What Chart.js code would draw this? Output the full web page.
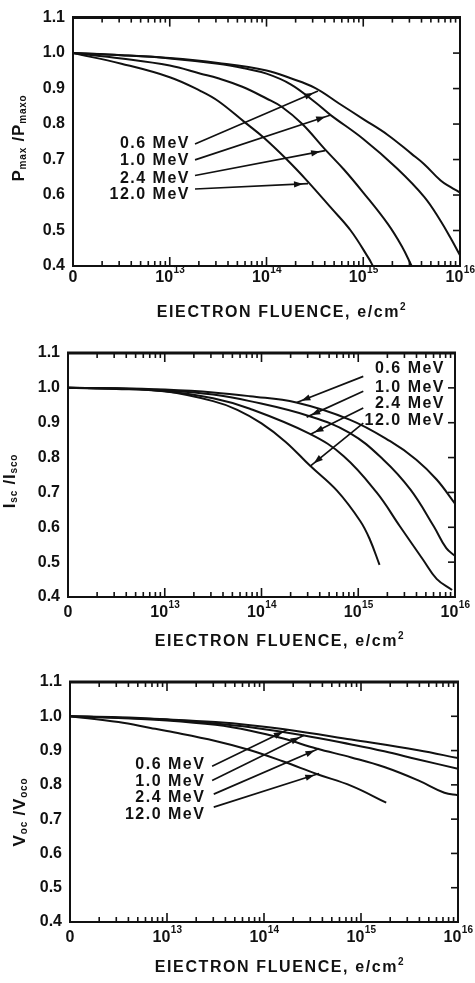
<!DOCTYPE html>
<html>
<head>
<meta charset="utf-8">
<script src="https://cdn.jsdelivr.net/npm/chart.js@4.4.1/dist/chart.umd.min.js"></script>
<style>
  html, body { margin: 0; padding: 0; background: #fff; }
  body { width: 475px; height: 983px; position: relative; overflow: hidden; }
  .panel { position: absolute; left: 0; width: 475px; }
  canvas { display: block; }
</style>
</head>
<body>
<div class="panel" style="top:0;height:322px"><canvas id="c1"></canvas></div>
<div class="panel" style="top:322px;height:333px"><canvas id="c2"></canvas></div>
<div class="panel" style="top:655px;height:328px"><canvas id="c3"></canvas></div>
<script>
// Electron energies of the four degradation curves (same order in every panel)
const energies = ['0.6 MeV', '1.0 MeV', '2.4 MeV', '12.0 MeV'];

// Decades labelled on the fluence axis; the left end (10^12) is labelled "0"
const fluenceDecades = ['13', '14', '15', '16'];
const ratioTicks = [0.4, 0.5, 0.6, 0.7, 0.8, 0.9, 1.0, 1.1];

// Each point: [log10 fluence (e/cm²), normalized ratio]
// Maximum power, Pmax / Pmaxo
const pmax06  = [[12,1.0],[12.5,0.994],[13,0.986],[13.5,0.972],[14,0.951],[14.25,0.929],[14.5,0.902],[14.75,0.858],[15,0.814],[15.25,0.77],[15.5,0.716],[15.63,0.687],[15.8,0.641],[15.9,0.623],[16,0.607]];
const pmax10  = [[12,1.0],[12.5,0.994],[13,0.985],[13.5,0.97],[13.77,0.957],[14,0.942],[14.25,0.912],[14.5,0.862],[14.66,0.826],[15,0.758],[15.35,0.675],[15.63,0.595],[15.8,0.527],[15.9,0.48],[16,0.43]];
const pmax24  = [[12,1.0],[12.5,0.985],[13,0.965],[13.32,0.942],[13.5,0.929],[13.75,0.905],[14,0.872],[14.16,0.848],[14.37,0.8],[14.6,0.73],[14.8,0.672],[15,0.607],[15.25,0.52],[15.4,0.455],[15.5,0.4]];
const pmax120 = [[12,1.0],[12.5,0.97],[13,0.932],[13.32,0.893],[13.5,0.865],[13.78,0.804],[13.97,0.762],[14.21,0.7],[14.42,0.64],[14.67,0.563],[14.87,0.5],[15.06,0.42],[15.1,0.4]];

// Short-circuit current, Isc / Isco
const isc06  = [[12,1.0],[12.5,0.999],[13,0.995],[13.5,0.987],[13.88,0.976],[14.36,0.958],[14.91,0.909],[15.33,0.847],[15.6,0.794],[15.81,0.737],[16,0.668]];
const isc10  = [[12,1.0],[12.5,0.998],[13,0.993],[13.5,0.981],[13.88,0.962],[14.48,0.92],[14.91,0.871],[15.26,0.794],[15.54,0.708],[15.78,0.603],[15.91,0.54],[16,0.518]];
const isc24  = [[12,1.0],[12.5,0.997],[13,0.99],[13.5,0.97],[13.88,0.94],[14.5,0.868],[14.85,0.804],[15.19,0.7],[15.43,0.603],[15.67,0.507],[15.81,0.452],[15.97,0.42]];
const isc120 = [[12,1.0],[12.5,0.998],[13,0.99],[13.5,0.962],[13.75,0.937],[14,0.898],[14.25,0.845],[14.5,0.777],[14.78,0.705],[15.02,0.618],[15.12,0.565],[15.22,0.492]];

// Open-circuit voltage, Voc / Voco
const voc06  = [[12,1.0],[12.5,0.997],[13,0.991],[13.5,0.983],[13.86,0.974],[14.21,0.962],[14.9,0.932],[15.59,0.901],[16,0.878]];
const voc10  = [[12,1.0],[12.5,0.996],[13,0.99],[13.5,0.979],[13.86,0.968],[14.4,0.945],[14.9,0.918],[15.24,0.898],[15.59,0.874],[16,0.847]];
const voc24  = [[12,1.0],[12.5,0.995],[13,0.988],[13.5,0.975],[13.86,0.958],[14.2,0.935],[14.54,0.906],[14.9,0.88],[15.24,0.852],[15.59,0.813],[15.86,0.777],[16,0.77]];
const voc120 = [[12,1.0],[12.5,0.983],[12.83,0.966],[13,0.957],[13.5,0.928],[13.86,0.901],[14.2,0.868],[14.55,0.831],[14.9,0.797],[15.26,0.748]];

// Energy call-outs: label anchor, arrow start and arrow end, in [log10 fluence, ratio]
const pmaxCallouts = [
  { at: [13.209, 0.746], from: [13.261, 0.744], to: [14.532, 0.893] },
  { at: [13.209, 0.698], from: [13.261, 0.699], to: [14.656, 0.825] },
  { at: [13.209, 0.646], from: [13.261, 0.655], to: [14.605, 0.725] },
  { at: [13.209, 0.601], from: [13.261, 0.617], to: [14.429, 0.632] }
];
const iscCallouts = [
  { at: [15.897, 1.055], from: [15.052, 1.033], to: [14.364, 0.958] },
  { at: [15.897, 1.002], from: [15.052, 0.990], to: [14.467, 0.916] },
  { at: [15.897, 0.955], from: [15.052, 0.942], to: [14.501, 0.866] },
  { at: [15.897, 0.906], from: [15.052, 0.899], to: [14.501, 0.775] }
];
const vocCallouts = [
  { at: [13.396, 0.860], from: [13.465, 0.854], to: [14.241, 0.961] },
  { at: [13.396, 0.810], from: [13.465, 0.813], to: [14.413, 0.945] },
  { at: [13.396, 0.762], from: [13.482, 0.773], to: [14.568, 0.906] },
  { at: [13.396, 0.714], from: [13.482, 0.735], to: [14.568, 0.833] }
];

const FONT = '"Liberation Sans", Arial, Helvetica, sans-serif';
const INK = '#111';
const xTitleText = 'EIECTRON FLUENCE, e/cm';

// Per-panel layout: plot box (canvas pixels), title positions and text
const panels = {
  c1: {
    series: [pmax06, pmax10, pmax24, pmax120], callouts: pmaxCallouts, align: 'right',
    box: { left: 73, top: 16, right: 460, bottom: 266 }, height: 322,
    yTitle: [['P', 0], ['max', 1], [' /P', 0], ['maxo', 1]], yTitleAt: [24, 138],
    tickBaseline: 282, xTitleAt: [282, 317]
  },
  c2: {
    series: [isc06, isc10, isc24, isc120], callouts: iscCallouts, align: 'right',
    box: { left: 68, top: 31, right: 455, bottom: 275 }, height: 333,
    yTitle: [['I', 0], ['sc', 1], [' /I', 0], ['sco', 1]], yTitleAt: [15, 159],
    tickBaseline: 295, xTitleAt: [280, 324]
  },
  c3: {
    series: [voc06, voc10, voc24, voc120], callouts: vocCallouts, align: 'right',
    box: { left: 70, top: 27, right: 458, bottom: 267 }, height: 328,
    yTitle: [['V', 0], ['oc', 1], [' /V', 0], ['oco', 1]], yTitleAt: [25, 157],
    tickBaseline: 287, xTitleAt: [280, 317]
  }
};

function seg(ctx, x0, y0, x1, y1) {
  ctx.beginPath(); ctx.moveTo(x0, y0); ctx.lineTo(x1, y1); ctx.stroke();
}

function arrow(ctx, x0, y0, x1, y1) {
  ctx.lineWidth = 1.7;
  seg(ctx, x0, y0, x1, y1);
  const ang = Math.atan2(y1 - y0, x1 - x0);
  const c = Math.cos(ang), s = Math.sin(ang);
  const hx = x1 - 5 * c, hy = y1 - 5 * s;   // head sits just short of the line end
  const L = 9, W = 3.2;
  ctx.beginPath();
  ctx.moveTo(hx, hy);
  ctx.lineTo(hx - L * c + W * s, hy - L * s - W * c);
  ctx.lineTo(hx - L * c - W * s, hy - L * s + W * c);
  ctx.closePath();
  ctx.fill();
}

const figurePlugin = {
  id: 'figure',
  afterDraw(chart) {
    const p = panels[chart.canvas.id];
    const ctx = chart.ctx;
    const a = chart.chartArea;
    const xs = chart.scales.x, ys = chart.scales.y;
    const px = lf => xs.getPixelForValue(Math.pow(10, lf));
    const py = v => ys.getPixelForValue(v);

    ctx.save();
    ctx.strokeStyle = INK;
    ctx.fillStyle = INK;
    ctx.lineCap = 'butt';

    // plot frame
    ctx.lineWidth = 2;
    ctx.strokeRect(a.left, a.top, a.right - a.left, a.bottom - a.top);
    ctx.lineWidth = 3;
    seg(ctx, a.left - 1, a.top, a.right + 1, a.top);

    // inward log ticks on the bottom and top edges
    ctx.lineWidth = 1.6;
    for (let e = 12; e < 16; e++) {
      for (let k = 1; k <= 9; k++) {
        if (e === 12 && k === 1) continue;
        const x = xs.getPixelForValue(k * Math.pow(10, e));
        const len = k === 1 ? 9 : 5;
        seg(ctx, x, a.bottom, x, a.bottom - len);
        seg(ctx, x, a.top, x, a.top + len);
      }
    }
    // inward ticks on the right edge
    ratioTicks.forEach(v => {
      if (v > 0.4 && v < 1.1) seg(ctx, a.right, py(v), a.right - 7, py(v));
    });

    // fluence tick labels: "0" then 10^n
    ctx.textBaseline = 'alphabetic';
    ctx.textAlign = 'left';
    const bigFont = 'bold 16px ' + FONT;
    const supFont = 'bold 10px ' + FONT;
    ctx.font = bigFont;
    const zw = ctx.measureText('0').width;
    ctx.fillText('0', px(12) - zw / 2, p.tickBaseline);
    fluenceDecades.forEach(d => {
      const x = xs.getPixelForValue(Math.pow(10, Number(d)));
      ctx.font = bigFont;
      const w1 = ctx.measureText('10').width;
      ctx.font = supFont;
      const w2 = ctx.measureText(d).width;
      const left = x - (w1 + w2) / 2;
      ctx.font = bigFont;
      ctx.fillText('10', left, p.tickBaseline);
      ctx.font = supFont;
      ctx.fillText(d, left + w1 + 0.5, p.tickBaseline - 9);
    });

    // fluence axis title with superscript
    ctx.font = bigFont;
    ctx.letterSpacing = '1.6px';
    const tw = ctx.measureText(xTitleText).width;
    ctx.font = supFont;
    const sw = ctx.measureText('2').width;
    const tx = p.xTitleAt[0] - (tw + sw) / 2;
    ctx.font = bigFont;
    ctx.fillText(xTitleText, tx, p.xTitleAt[1]);
    ctx.font = supFont;
    ctx.fillText('2', tx + tw, p.xTitleAt[1] - 7);

    // rotated ratio title with subscripts
    ctx.save();
    ctx.translate(p.yTitleAt[0], p.yTitleAt[1]);
    ctx.rotate(-Math.PI / 2);
    ctx.letterSpacing = '0.8px';
    const yFontBig = 'bold 17px ' + FONT;
    const yFontSub = 'bold 10px ' + FONT;
    let total = 0;
    p.yTitle.forEach(([t, sub]) => { ctx.font = sub ? yFontSub : yFontBig; total += ctx.measureText(t).width; });
    let cx = -total / 2;
    p.yTitle.forEach(([t, sub]) => {
      ctx.font = sub ? yFontSub : yFontBig;
      ctx.fillText(t, cx, sub ? 2 : 0);
      cx += ctx.measureText(t).width;
    });
    ctx.restore();

    // energy call-outs
    ctx.font = bigFont;
    ctx.letterSpacing = '1.5px';
    ctx.textBaseline = 'middle';
    ctx.textAlign = p.align;
    p.callouts.forEach((c, i) => {
      ctx.fillText(energies[i], px(c.at[0]), py(c.at[1]));
      arrow(ctx, px(c.from[0]), py(c.from[1]), px(c.to[0]), py(c.to[1]));
    });

    ctx.restore();
  }
};

function buildPanel(id) {
  const p = panels[id];
  return new Chart(document.getElementById(id), {
    type: 'line',
    data: {
      datasets: p.series.map((s, i) => ({
        label: energies[i],
        data: s.map(([lf, r]) => ({ x: Math.pow(10, lf), y: r })),
        borderColor: INK,
        borderWidth: 2,
        pointRadius: 0,
        fill: false,
        tension: 0.4
      }))
    },
    options: {
      responsive: true,
      maintainAspectRatio: false,
      animation: false,
      events: [],
      layout: { padding: { left: 0, top: p.box.top, right: 475 - p.box.right, bottom: p.height - p.box.bottom } },
      plugins: { legend: { display: false }, tooltip: { enabled: false } },
      scales: {
        x: { type: 'logarithmic', min: 1e12, max: 1e16, display: false },
        y: {
          min: 0.4, max: 1.1,
          afterBuildTicks: s => { s.ticks = ratioTicks.map(v => ({ value: v })); },
          afterFit: s => { s.width = p.box.left; },
          grid: { display: false, drawTicks: false },
          border: { display: false },
          ticks: {
            padding: 8,
            color: INK,
            font: { family: FONT, size: 16, weight: 'bold' },
            callback: v => Number(v).toFixed(1)
          }
        }
      }
    },
    plugins: [figurePlugin]
  });
}

['c1', 'c2', 'c3'].forEach(buildPanel);
</script>
</body>
</html>
